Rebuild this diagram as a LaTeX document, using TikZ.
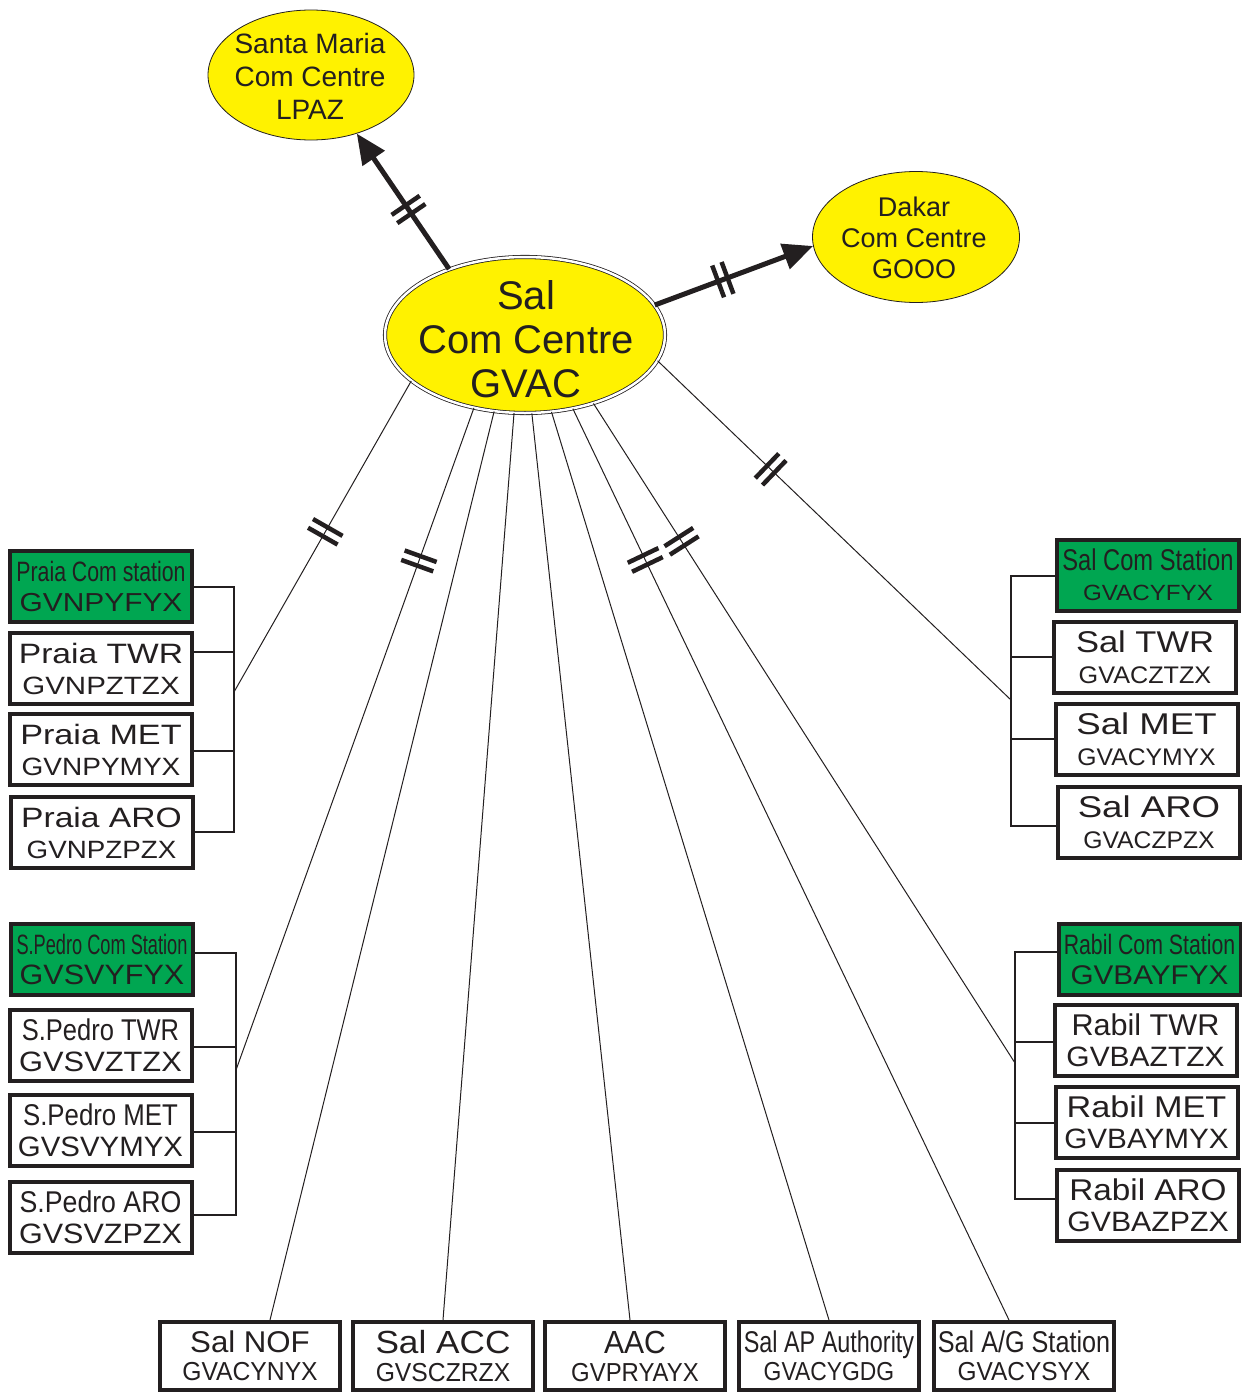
\documentclass[tikz,border=0pt]{standalone}
\usepackage{fontspec}
\setmainfont{Liberation Sans}
\usepackage{graphicx}
\usetikzlibrary{shapes.geometric,arrows.meta,decorations.markings,calc}
\definecolor{cvyellow}{RGB}{255,242,0}
\definecolor{cvgreen}{RGB}{0,166,81}
\definecolor{ink}{RGB}{35,31,32}
\newcommand{\stx}[3]{\scalebox{#1}[1]{\fontsize{#2}{#2}\selectfont #3}}
\begin{document}
\begin{tikzpicture}[x=1pt,y=-1pt,
  stn/.style={draw=ink, line width=4pt, fill=white, minimum width=182pt, minimum height=71pt,
              inner sep=0pt, align=center, text=ink, font=\fontsize{26}{31}\selectfont},
  grn/.style={stn, fill=cvgreen, font=\fontsize{26}{30}\selectfont},
  botbox/.style={stn, minimum width=180pt, minimum height=68pt, font=\fontsize{26}{28}\selectfont},
  hub/.style={ellipse, draw=ink, fill=cvyellow, line width=0.8pt, inner sep=0pt},
  hubtext/.style={text=ink, align=center, inner sep=0pt},
  link/.style={draw=ink, line width=1pt},
  brk/.style={draw=ink, line width=2pt},
  feed/.style={draw=ink, line width=5pt, -{Triangle[length=30pt,width=26pt]}},
  hash/.style={postaction={decorate,decoration={markings,
      mark=at position #1 with {\draw[-, ink, line width=4.5pt] (-5,-17) -- (-5,17) (5,-17) -- (5,17);}}}}
]
\useasboundingbox (0,0) rectangle (1242,1392);

% hubs
\node[hub, minimum width=206pt, minimum height=130pt] (sm) at (311,75) {};
\node[hubtext, font=\fontsize{28}{33}\selectfont] at (310,76) {Santa Maria\\Com Centre\\LPAZ};
\node[hub, minimum width=207pt, minimum height=131pt] (dk) at (916,237) {};
\node[hubtext, font=\fontsize{27}{31}\selectfont] at (914,238) {Dakar\\Com Centre\\GOOO};
\node[hub, double=white, double distance=2.5pt, minimum width=280pt, minimum height=156pt] (gvac) at (525,335) {};
\node[hubtext, font=\fontsize{40}{44}\selectfont] at (526,339) {Sal\\Com Centre\\GVAC};

% Praia group
\node[grn] (pcs) at (101,586) {\stx{0.76}{28}{Praia Com station}\\\stx{1.15}{26}{GVNPYFYX}};
\node[stn] (ptwr) at (101,668.5) {\stx{1.2}{28}{Praia TWR}\\\stx{1.18}{25}{GVNPZTZX}};
\node[stn] (pmet) at (101,749.5) {\stx{1.22}{28}{Praia MET}\\\stx{1.12}{25}{GVNPYMYX}};
\node[stn] (paro) at (101.5,832.5) {\stx{1.2}{28}{Praia ARO}\\\stx{1.11}{25}{GVNPZPZX}};

% S.Pedro group
\node[grn] (scs) at (102,959.5) {\stx{0.65}{28}{S.Pedro Com Station}\\\stx{1.09}{28}{GVSVYFYX}};
\node[stn] (stwr) at (100.5,1045.5) {\stx{0.85}{30}{S.Pedro TWR}\\\stx{1.1}{28}{GVSVZTZX}};
\node[stn] (smet) at (100.5,1130.5) {\stx{0.86}{30}{S.Pedro MET}\\\stx{1.05}{28}{GVSVYMYX}};
\node[stn] (saro) at (100.5,1217.5) {\stx{0.89}{30}{S.Pedro ARO}\\\stx{1.09}{28}{GVSVZPZX}};

% Sal group
\node[grn] (rcs) at (1148,575) {\stx{0.79}{30}{Sal Com Station}\\\stx{1.1}{22}{GVACYFYX}};
\node[stn] (rtwr) at (1145,657.5) {\stx{1.15}{30}{Sal TWR}\\\stx{1.05}{24}{GVACZTZX}};
\node[stn] (rmet) at (1146.5,739.5) {\stx{1.22}{30}{Sal MET}\\\stx{1.03}{24}{GVACYMYX}};
\node[stn] (raro) at (1149,822.5) {\stx{1.22}{30}{Sal ARO}\\\stx{1.03}{24}{GVACZPZX}};

% Rabil group
\node[grn] (bcs) at (1149.5,959.5) {\stx{0.76}{28}{Rabil Com Station}\\\stx{1.1}{27}{GVBAYFYX}};
\node[stn] (btwr) at (1145.5,1040) {\stx{1.02}{30}{Rabil TWR}\\\stx{1.07}{28}{GVBAZTZX}};
\node[stn] (bmet) at (1146.5,1122.5) {\stx{1.14}{30}{Rabil MET}\\\stx{1.06}{28}{GVBAYMYX}};
\node[stn] (baro) at (1148,1205.5) {\stx{1.11}{30}{Rabil ARO}\\\stx{1.08}{28}{GVBAZPZX}};

% bottom row
\node[botbox] (nof) at (250,1356) {\stx{1.04}{30}{Sal NOF}\\\stx{0.95}{26}{GVACYNYX}};
\node[botbox] (acc) at (443,1356) {\stx{1.1}{32}{Sal ACC}\\\stx{0.95}{26}{GVSCZRZX}};
\node[botbox] (aac) at (635,1356) {\stx{0.94}{32}{AAC}\\\stx{0.92}{26}{GVPRYAYX}};
\node[botbox] (ap) at (829,1356) {\stx{0.78}{30}{Sal AP Authority}\\\stx{0.88}{26}{GVACYGDG}};
\node[botbox] (ag) at (1024,1356) {\stx{0.84}{30}{Sal A/G Station}\\\stx{0.94}{26}{GVACYSYX}};

% brackets
\draw[brk] (pcs.east |- 0,587) -- (234,587) -- (234,832) -- (paro.east |- 0,832);
\draw[brk] (ptwr.east |- 0,652) -- (234,652);
\draw[brk] (pmet.east |- 0,751) -- (234,751);
\coordinate (pbr) at (234,692);

\draw[brk] (scs.east |- 0,953) -- (236,953) -- (236,1215) -- (saro.east |- 0,1215);
\draw[brk] (stwr.east |- 0,1047) -- (236,1047);
\draw[brk] (smet.east |- 0,1132) -- (236,1132);
\coordinate (sbr) at (236,1070);

\draw[brk] (rcs.west |- 0,576) -- (1011,576) -- (1011,826) -- (raro.west |- 0,826);
\draw[brk] (rtwr.west |- 0,657) -- (1011,657);
\draw[brk] (rmet.west |- 0,739) -- (1011,739);
\coordinate (rbr) at (1011,700);

\draw[brk] (bcs.west |- 0,952) -- (1015,952) -- (1015,1199) -- (baro.west |- 0,1199);
\draw[brk] (btwr.west |- 0,1042) -- (1015,1042);
\draw[brk] (bmet.west |- 0,1123) -- (1015,1123);
\coordinate (bbr) at (1015,1063);

% connectors
\draw[link, hash=0.485] (gvac.202) -- (pbr);
\draw[link, hash=0.231] (gvac.235) -- (sbr);
\draw[link] (gvac.248) -- ($(nof.north)+(20,0)$);
\draw[link] (gvac.262) -- (acc.north);
\draw[link] (gvac.275) -- ($(aac.north)+(-5,0)$);
\draw[link] (gvac.289) -- (ap.north);
\draw[link, hash=0.166] (gvac.303) -- ($(ag.north)+(-15,0)$);
\draw[link, hash=0.209] (gvac.315) -- (bbr);
\draw[link, hash=0.32] (gvac.349) -- (rbr);

\draw[feed, hash=0.44] (gvac.139) -- (sm.-52);
\draw[feed, hash=0.43] (gvac.13) -- (dk.185);
\end{tikzpicture}
\end{document}
